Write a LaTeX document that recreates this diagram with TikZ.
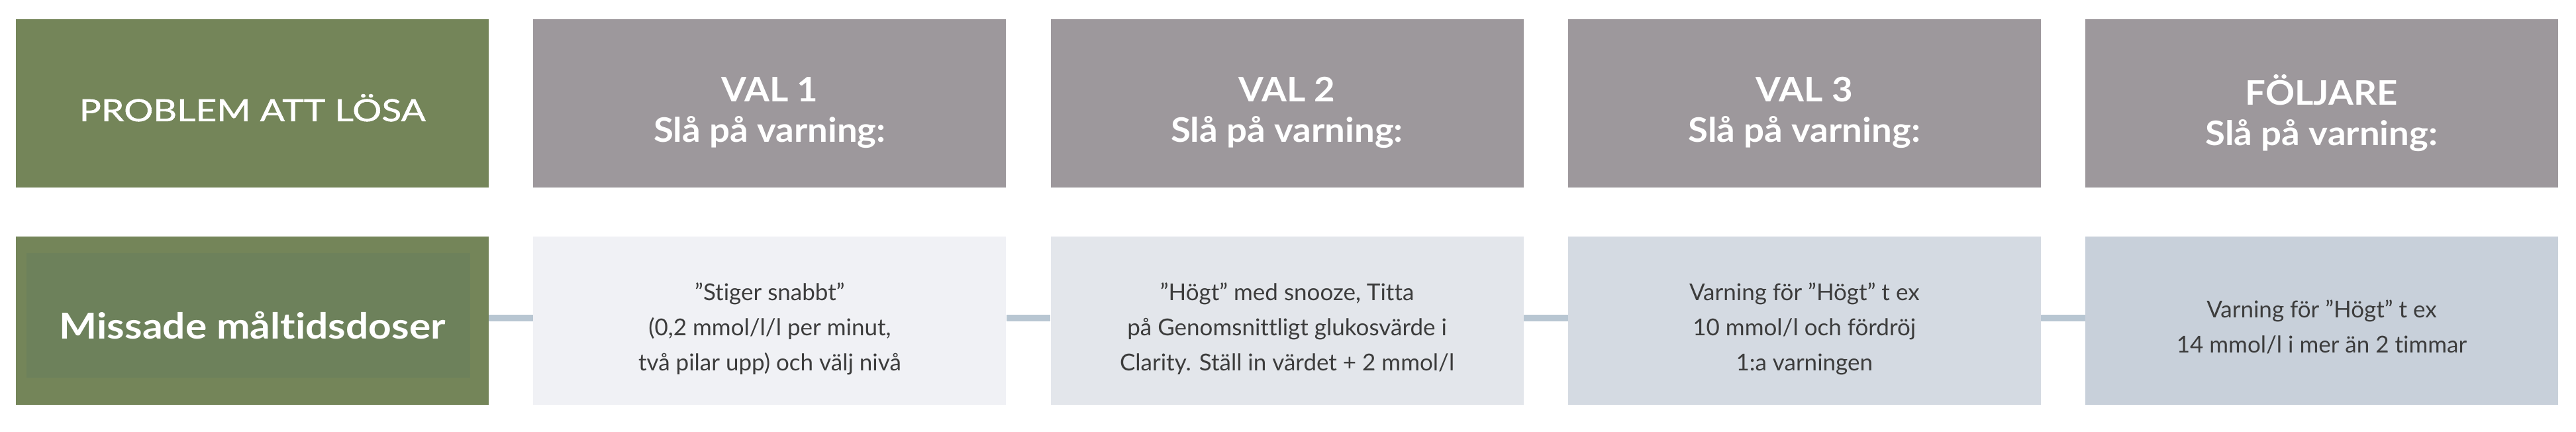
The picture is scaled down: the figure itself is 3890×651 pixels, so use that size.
\documentclass[tikz,border=0pt]{standalone}
\usepackage{fontspec}
\setmainfont{Lato}[Ligatures=CommonOff]
\newfontfamily\probfont{Lato}[Ligatures=CommonOff,FakeStretch=1.2,FakeBold=1.2]
\newfontfamily\headfont{Lato}[Ligatures=CommonOff,FakeStretch=1.07]
\newfontfamily\missfont{Lato}[Ligatures=CommonOff,FakeStretch=1.12]
\definecolor{greenA}{HTML}{748559}
\definecolor{greenB}{HTML}{6D815B}
\definecolor{headgray}{HTML}{9D989C}
\definecolor{cellA}{HTML}{F0F1F5}
\definecolor{cellB}{HTML}{E3E6EB}
\definecolor{cellC}{HTML}{D4DAE2}
\definecolor{cellD}{HTML}{C8D0DA}
\definecolor{connc}{HTML}{B8C6D2}
\definecolor{bodytxt}{HTML}{3C3C3C}
\begin{document}
\begin{tikzpicture}[x=1pt,y=-1pt,
  cellbox/.style={draw=none,inner sep=0pt,minimum width=714pt,minimum height=254pt,anchor=north west},
  headtxt/.style={inner sep=0pt,align=center,text=white,font=\headfont\bfseries\fontsize{51}{61}\selectfont},
  probtxt/.style={inner sep=0pt,align=center,text=white,font=\probfont\fontsize{46}{55}\selectfont},
  misstxt/.style={inner sep=0pt,align=center,text=white,font=\missfont\bfseries\fontsize{54}{60}\selectfont},
  bodytext/.style={inner sep=0pt,align=center,text=bodytxt,font=\fontsize{35}{53}\selectfont},
  conn/.style={draw=connc,line width=10pt}]
\fill[white] (0,0) rectangle (3890,651);
\useasboundingbox (0,0) rectangle (3890,651);
% header row
\node[cellbox,fill=greenA] (p) at (24,29) {};
\node[cellbox,fill=headgray] (h1) at (805.2,29) {};
\node[cellbox,fill=headgray] (h2) at (1586.4,29) {};
\node[cellbox,fill=headgray] (h3) at (2367.6,29) {};
\node[cellbox,fill=headgray] (h4) at (3148.8,29) {};
% body row
\node[cellbox,fill=greenA] (m) at (24,357) {};
\node[inner sep=0pt,minimum width=670pt,minimum height=188pt,anchor=north west,fill=greenB] (mi) at (40,382) {};
\node[cellbox,fill=cellA] (b1) at (805.2,357) {};
\node[cellbox,fill=cellB] (b2) at (1586.4,357) {};
\node[cellbox,fill=cellC] (b3) at (2367.6,357) {};
\node[cellbox,fill=cellD] (b4) at (3148.8,357) {};
% connectors
\draw[conn] ([yshift=4pt]m.east) -- ([yshift=4pt]b1.west);
\draw[conn] ([yshift=4pt]b1.east) -- ([yshift=4pt]b2.west);
\draw[conn] ([yshift=4pt]b2.east) -- ([yshift=4pt]b3.west);
\draw[conn] ([yshift=4pt]b3.east) -- ([yshift=4pt]b4.west);
% texts
\node[probtxt] (pt) at ([yshift=-6.5pt]p.center) {PROBLEM ATT LÖSA};
\node[headtxt] (h1t) at ([yshift=-14pt]h1.center) {VAL 1\\Slå på varning:};
\node[headtxt] (h2t) at ([yshift=-14pt]h2.center) {VAL 2\\Slå på varning:};
\node[headtxt] (h3t) at ([yshift=-14pt]h3.center) {VAL 3\\Slå på varning:};
\node[headtxt] (h4t) at ([yshift=-14pt]h4.center) {FÖLJARE\\Slå på varning:};
\node[misstxt] (mt) at ([yshift=-7pt]m.center) {Missade måltidsdoser};
\node[bodytext] (b1t) at ([yshift=-12pt]b1.center) {”Stiger snabbt”\\(0,2 mmol/l/l per minut,\\två pilar upp) och välj nivå};
\node[bodytext] (b2t) at ([yshift=-12pt]b2.center) {”Högt” med snooze, Titta\\på Genomsnittligt glukosvärde i\\Clarity. Ställ in värdet + 2 mmol/l};
\node[bodytext] (b3t) at ([yshift=-12pt]b3.center) {Varning för ”Högt” t ex\\10 mmol/l och fördröj\\1:a varningen};
\node[bodytext] (b4t) at ([yshift=-9pt]b4.center) {Varning för ”Högt” t ex\\14 mmol/l i mer än 2 timmar};
\end{tikzpicture}
\end{document}
